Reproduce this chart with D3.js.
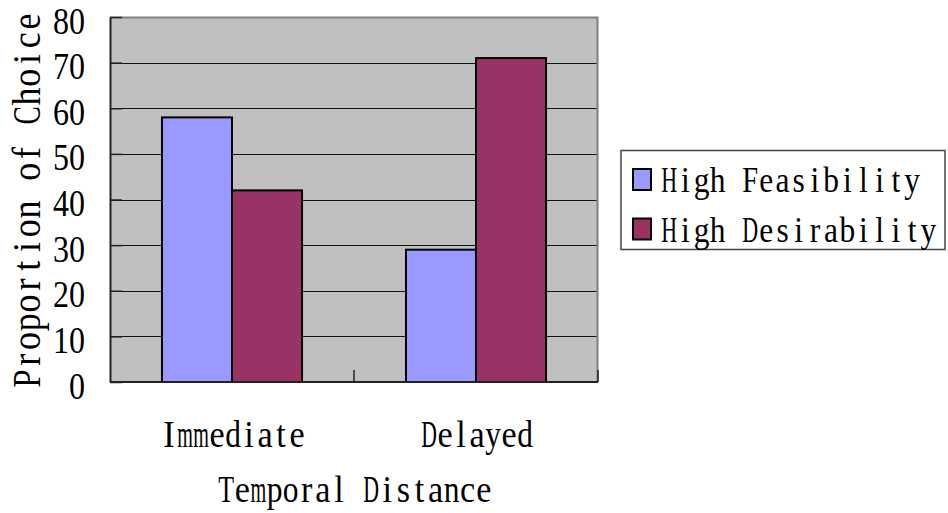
<!DOCTYPE html>
<html>
<head>
<meta charset="utf-8">
<script src="https://cdn.jsdelivr.net/npm/d3@7"></script>
<style>
  html, body { margin: 0; padding: 0; background: #fff; }
  svg { display: block; }
  .serif { font-family: "Liberation Serif", "DejaVu Serif", serif; fill: #000; }
</style>
</head>
<body>
<svg id="chart" width="948" height="513"></svg>
<script>
// Proportion of choice by temporal distance
const categories = ["Immediate", "Delayed"];
const seriesNames = ["High Feasibility", "High Desirability"];
const highFeasibility = [58, 29];
const highDesirability = [42, 71];
const yTicks = [0, 10, 20, 30, 40, 50, 60, 70, 80];
const colors = ["#9999FF", "#993366"];

const rows = categories.map((c, i) => ({
  category: c,
  values: [highFeasibility[i], highDesirability[i]]
}));

const svg = d3.select("#chart");
const plot = { left: 110, right: 598, top: 17, bottom: 382 };
const plotW = plot.right - plot.left;
const plotH = plot.bottom - plot.top;

const y = d3.scaleLinear().domain([0, 80]).range([plot.bottom, plot.top]);
const x0 = d3.scaleBand().domain(categories).range([plot.left, plot.right]).padding(0);
const groupW = x0.bandwidth() * 0.574;
const x1 = d3.scaleBand().domain(seriesNames).range([0, groupW]).padding(0);
const groupOffset = (x0.bandwidth() - groupW) / 2;

// Fixed-pitch serif text: every character sits centred in a cell of width `adv`;
// wide glyphs are squeezed so they fit the cell, narrow ones keep a mild squeeze.
function pitchText(parent, str, opts) {
  const { x, y, adv, size, anchor = "start", rotate = 0, fill = 0.98, maxSx = 0.9 } = opts;
  const total = str.length * adv;
  const start = anchor === "middle" ? -total / 2 : 0;
  const g = parent.append("g")
    .attr("transform", `translate(${x},${y}) rotate(${rotate})`);
  Array.from(str).forEach((ch, i) => {
    if (ch === " ") return;
    const t = g.append("text")
      .attr("class", "serif")
      .attr("font-size", size)
      .attr("text-anchor", "middle")
      .text(ch);
    const w = t.node().getComputedTextLength() || adv;
    const sx = Math.min(maxSx, (fill * adv) / w);
    t.attr("transform", `translate(${(start + (i + 0.5) * adv).toFixed(2)},0) scale(${sx.toFixed(3)},1)`);
  });
  return g;
}

// plot background
svg.append("rect")
  .attr("x", plot.left).attr("y", plot.top)
  .attr("width", plotW).attr("height", plotH)
  .attr("fill", "#C0C0C0");

// horizontal gridlines
svg.append("g")
  .attr("transform", `translate(${plot.left},0)`)
  .call(d3.axisLeft(y).tickValues(yTicks.filter(v => v > 0 && v < 80))
    .tickSize(-plotW).tickFormat(""))
  .call(g => g.select(".domain").remove())
  .call(g => g.selectAll("line").attr("stroke", "#111").attr("stroke-width", 1)
    .attr("shape-rendering", "crispEdges"));

// top and right frame
svg.append("path")
  .attr("d", `M${plot.left},${plot.top + 0.5}H${plot.right - 0.5}V${plot.bottom}`)
  .attr("fill", "none").attr("stroke", "#808080").attr("stroke-width", 2);

// bars
const groups = svg.append("g").selectAll("g")
  .data(rows).join("g")
  .attr("transform", d => `translate(${x0(d.category) + groupOffset},0)`);

groups.selectAll("rect")
  .data(d => d.values.map((v, i) => ({ key: seriesNames[i], value: v, idx: i })))
  .join("rect")
  .attr("x", d => x1(d.key))
  .attr("y", d => y(d.value))
  .attr("width", x1.bandwidth())
  .attr("height", d => y(0) - y(d.value))
  .attr("fill", d => colors[d.idx])
  .attr("stroke", "#000")
  .attr("stroke-width", 2);

// y axis with inward ticks
const yAxis = svg.append("g")
  .attr("transform", `translate(${plot.left},0)`)
  .call(d3.axisLeft(y).tickValues(yTicks).tickSizeInner(-12).tickSizeOuter(0).tickPadding(25));
yAxis.select(".domain").attr("stroke", "#222").attr("stroke-width", 2);
yAxis.selectAll(".tick line").attr("stroke", "#222").attr("stroke-width", 1.5);
yAxis.selectAll(".tick text")
  .attr("class", "serif")
  .attr("font-size", 37)
  .attr("dy", 16)
  .attr("textLength", d => String(d).length * 16)
  .attr("lengthAdjust", "spacingAndGlyphs");

// x axis baseline and category divider ticks
svg.append("line")
  .attr("x1", plot.left).attr("x2", plot.right)
  .attr("y1", plot.bottom).attr("y2", plot.bottom)
  .attr("stroke", "#222").attr("stroke-width", 2);
svg.append("g").selectAll("line")
  .data(categories).join("line")
  .attr("x1", d => x0(d) + x0.bandwidth())
  .attr("x2", d => x0(d) + x0.bandwidth())
  .attr("y1", plot.bottom).attr("y2", plot.bottom - 12)
  .attr("stroke", "#222").attr("stroke-width", 1.5);

// category labels
const catLabels = svg.append("g");
categories.forEach(c => {
  pitchText(catLabels, c, { x: x0(c) + x0.bandwidth() / 2 + 1, y: 447, adv: 16, size: 38, anchor: "middle" });
});

// axis titles
pitchText(svg, "Temporal Distance", { x: (plot.left + plot.right) / 2 + 1, y: 502, adv: 16.1, size: 38, anchor: "middle" });
pitchText(svg, "Proportion of Choice", { x: 40, y: 200, adv: 18.8, size: 40, anchor: "middle", rotate: -90 });

// legend
const legend = svg.append("g");
legend.append("rect")
  .attr("x", 621).attr("y", 150.5)
  .attr("width", 324).attr("height", 99)
  .attr("fill", "#fff").attr("stroke", "#444").attr("stroke-width", 1.5);

seriesNames.forEach((name, i) => {
  const dy = i * 49.5;
  legend.append("rect")
    .attr("x", 633).attr("y", 169 + dy)
    .attr("width", 18).attr("height", 21)
    .attr("fill", colors[i])
    .attr("stroke", "#000").attr("stroke-width", 2);
  pitchText(legend, name, { x: 661, y: 192 + dy, adv: 16.2, size: 35 });
});
</script>
</body>
</html>
